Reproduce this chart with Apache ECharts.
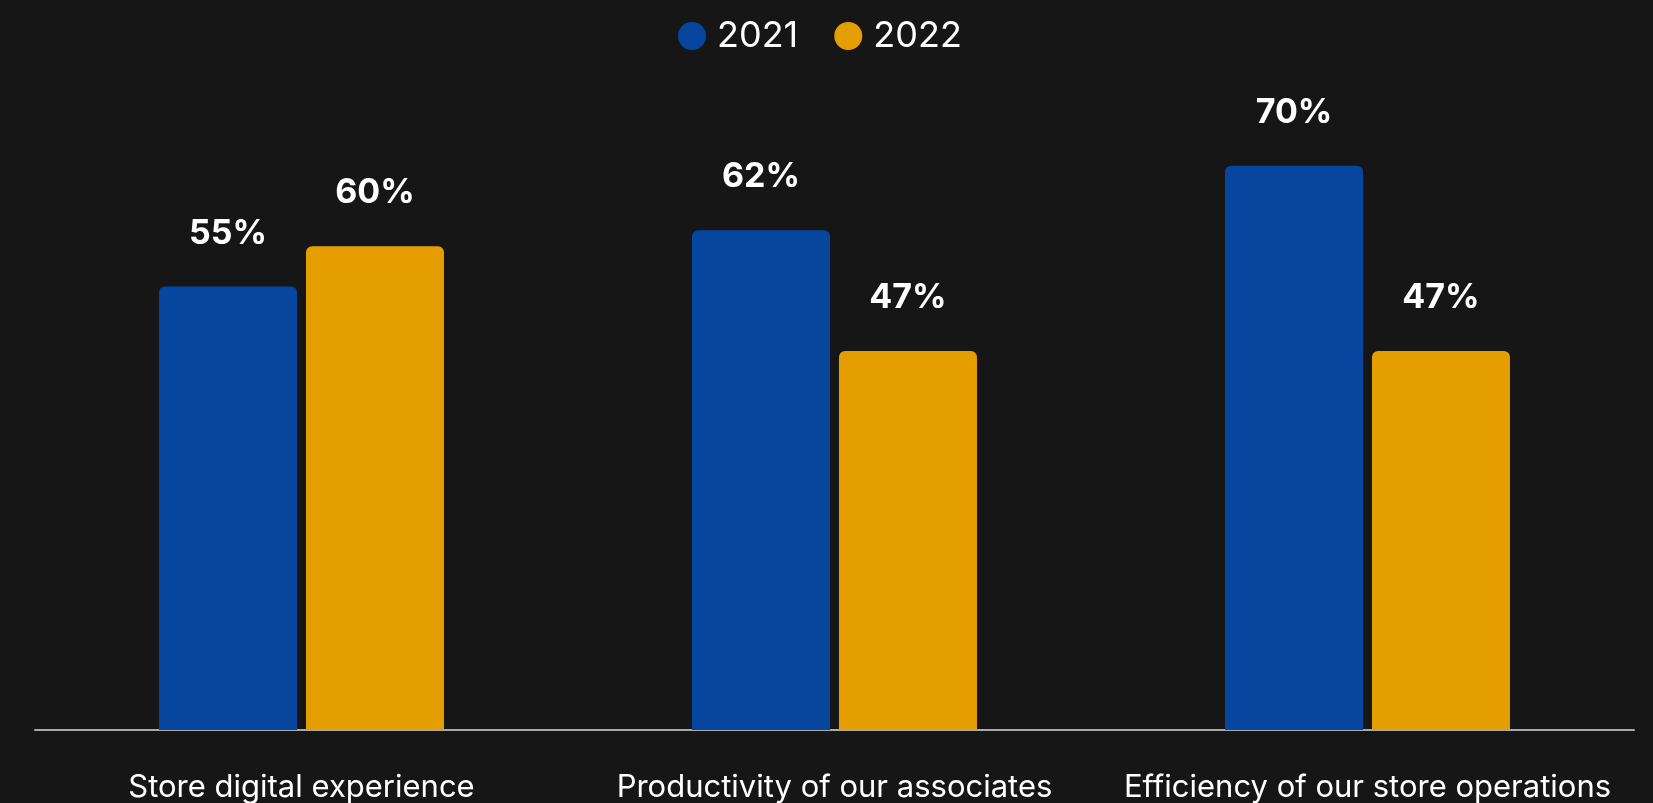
<!DOCTYPE html>
<html><head><meta charset="utf-8">
<script src="https://cdn.jsdelivr.net/npm/echarts@6/dist/echarts.min.js"></script>
<style>html,body{margin:0;padding:0;background:#161616}#c{width:1653px;height:803px}</style>
</head><body><div id="c"></div>
<script>
const categories = ['Store digital experience', 'Productivity of our associates', 'Efficiency of our store operations'];
const seriesNames = ['2021', '2022'];
const values2021 = [55, 62, 70];
const values2022 = [60, 47, 47];
const colors = ['#06469F', '#E59E00'];

const chart = echarts.init(document.getElementById('c'));
const font = 'Inter, "Open Sans", sans-serif';
const labelCfg = {
  show: true, position: 'top', distance: 36,
  formatter: p => p.value + '%',
  color: '#ffffff', fontSize: 34, fontWeight: 'bold', fontFamily: font
};
chart.setOption({
  backgroundColor: '#161616',
  animation: false,
  legend: {
    top: 13, left: 673, icon: 'circle', itemWidth: 28, itemHeight: 28, itemGap: 36,
    textStyle: { color: '#ffffff', fontSize: 36, fontFamily: font, padding: [0, 0, 0, 6] },
    data: seriesNames
  },
  grid: { left: 35, right: 19, top: 85, bottom: 73 },
  xAxis: {
    type: 'category', data: categories,
    axisLine: { lineStyle: { color: '#aaaaaa', width: 2 } },
    axisTick: { show: false },
    axisLabel: { color: '#ffffff', fontSize: 31, fontFamily: font, margin: 42, interval: 0 }
  },
  yAxis: { type: 'value', min: 0, max: 80, show: false, splitLine: { show: false } },
  series: [
    { name: seriesNames[0], type: 'bar', data: values2021, barWidth: 138, barGap: '6.5%',
      itemStyle: { color: colors[0], borderRadius: [6, 6, 0, 0] }, label: labelCfg },
    { name: seriesNames[1], type: 'bar', data: values2022, barWidth: 138,
      itemStyle: { color: colors[1], borderRadius: [6, 6, 0, 0] }, label: labelCfg }
  ]
});
</script></body></html>
